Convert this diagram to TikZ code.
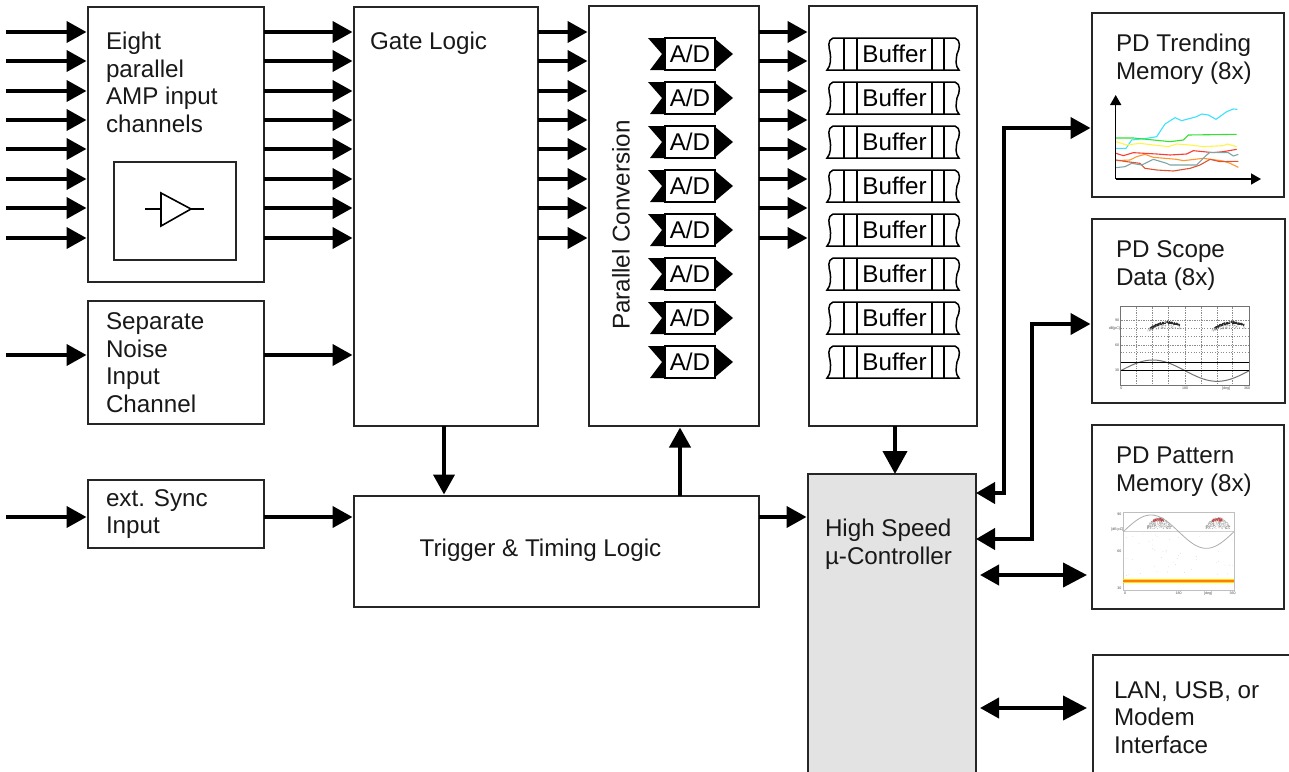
\documentclass[tikz,border=0pt]{standalone}
\usepackage{fontspec}
\setmainfont{Liberation Sans}
\usetikzlibrary{arrows.meta}
\definecolor{tcyan}{RGB}{60,225,255}
\definecolor{tgreen}{RGB}{50,225,50}
\definecolor{tyellow}{RGB}{255,245,70}
\definecolor{tred}{RGB}{250,60,50}
\definecolor{torange}{RGB}{255,150,50}
\definecolor{tdark}{RGB}{220,85,50}
\definecolor{tteal}{RGB}{125,165,165}
\tikzset{
  blk/.style={draw=black!85,line width=2pt,fill=white,inner sep=0pt,outer sep=0pt,anchor=north west},
  lbl/.style={inner sep=0pt,outer sep=0pt,anchor=west,align=left,text=black!90,font=\fontsize{24.2}{27.5}\selectfont},
  arr/.style={line width=4pt,black,shorten >=1.5pt,-{Triangle[length=20pt,width=21pt]}},
  bigarr/.style={line width=4pt,black,-{Triangle[length=23pt,width=24pt]}},
  dbl/.style={line width=4pt,black,{Triangle[length=19pt,width=20pt]}-{Triangle[length=24pt,width=24pt]}},
  link/.style={line width=4pt,black,line join=miter,shorten >=1.5pt,{Triangle[length=19pt,width=21pt]}-{Triangle[length=20pt,width=21pt]}},
  adbox/.style={draw=black,line width=1.6pt,fill=white,inner sep=0pt,outer sep=0pt,minimum width=50pt,minimum height=32pt,font=\fontsize{24.2}{27}\selectfont},
  buftxt/.style={inner sep=0pt,outer sep=0pt,font=\fontsize{24.2}{27}\selectfont},
  trend/.style={line width=1.1pt,line join=round},
  tiny/.style={inner sep=0pt,font=\fontsize{3.6}{4}\selectfont,text=black!70},
  buf/.pic={
    \draw[black,line width=1.5pt] (-61,-16) -- (61,-16)
       .. controls (67,-14) and (66,-6) .. (63,0)
       .. controls (62,6) and (61,12) .. (65,16) -- (-67,16)
       .. controls (-63,12) and (-63,4) .. (-64,-2)
       .. controls (-65,-6) and (-67,-14) .. (-61,-16);
    \draw[black,line width=1.5pt] (-50,-16) -- (-50,16) (-37,-16) -- (-37,16)
       (38,-16) -- (38,16) (50,-16) -- (50,16);
  }
}
\begin{document}
\begin{tikzpicture}[x=1pt,y=-1pt]
\useasboundingbox[fill=white] (0,0) rectangle (1289,771);
% blocks
\node[blk,minimum width=176pt,minimum height=275pt] (amp) at (88,7) {};
\node[blk,minimum width=122pt,minimum height=98pt] (ampin) at (114,162) {};
\node[blk,minimum width=176pt,minimum height=123pt] (noise) at (88,301) {};
\node[blk,minimum width=176pt,minimum height=68pt] (sync) at (88,480) {};
\node[blk,minimum width=184pt,minimum height=419pt] (gate) at (354,7) {};
\node[blk,minimum width=170pt,minimum height=420pt] (conv) at (589,6) {};
\node[blk,minimum width=168pt,minimum height=420pt] (bufs) at (809,6) {};
\node[blk,minimum width=405pt,minimum height=111pt] (trig) at (354,496) {};
\node[blk,fill=black!11,minimum width=168pt,minimum height=300pt] (hs) at (808,474) {};
\node[blk,minimum width=192pt,minimum height=184pt] (trendm) at (1092,13) {};
\node[blk,minimum width=193pt,minimum height=184pt] (scope) at (1092,219) {};
\node[blk,minimum width=192pt,minimum height=184pt] (pattern) at (1092,425) {};
\node[blk,minimum width=200pt,minimum height=120pt] (lan) at (1093,655) {};
% labels
\node[lbl] (t1) at (106,82.5) {Eight\\parallel\\AMP input\\channels};
\node[lbl] (t2) at (106,362.5) {Separate\\Noise\\Input\\Channel};
\node[lbl] (t3) at (106,514) {ext. Sync\\Input};
\node[lbl] (t4) at (370,43) {Gate Logic};
\node[lbl,anchor=center] (t5) at (540.5,550) {Trigger \& Timing Logic};
\node[lbl] (t6) at (825,544) {High Speed\\µ-Controller};
\node[lbl,anchor=center,rotate=90] (t7) at (621,225) {Parallel Conversion};
\node[lbl] (t8) at (1116,59) {PD Trending\\Memory (8x)};
\node[lbl] (t9) at (1116,265.5) {PD Scope\\Data (8x)};
\node[lbl] (t10) at (1116,471.5) {PD Pattern\\Memory (8x)};
\node[lbl] (t11) at (1114,717.5) {LAN, USB, or\\Modem\\Interface};
% amplifier symbol
\draw[black,line width=1.6pt,line join=miter] (161,193) -- (191,209) -- (161,226) -- cycle;
\draw[black,line width=1.6pt] (145,209) -- (161,209) (191,209) -- (204,209);
% A/D and buffers
\foreach \i/\y in {1/54,2/98,3/142,4/186,5/230,6/274,7/318,8/362}{
  \fill[black] (666,\y-16) -- (648,\y-16) -- (662,\y) -- (650,\y+16) -- (666,\y+16) -- cycle;
  \fill[black] (714,\y-16) -- (733,\y) -- (714,\y+16) -- cycle;
  \node[adbox] (ad\i) at (690,\y) {A/D};
  \pic at (894,\y) {buf};
  \node[buftxt] (bf\i) at (894.5,\y) {Buffer};
}
% channel arrows
\foreach \y [count=\i] in {32,61,91,120,149,179,208,238}{
  \coordinate (in\i) at (6,\y);
  \draw[arr] (in\i) -- (in\i -| amp.west);
  \draw[arr] (amp.east |- in\i) -- (gate.west |- in\i);
  \draw[arr] (gate.east |- in\i) -- (conv.west |- in\i);
  \draw[arr] (conv.east |- in\i) -- (bufs.west |- in\i);
}
\coordinate (nin) at (6,355);
\draw[arr] (nin) -- (nin -| noise.west);
\draw[arr] (noise.east |- nin) -- (gate.west |- nin);
\coordinate (sin) at (6,517);
\draw[arr] (sin) -- (sin -| sync.west);
\draw[arr] (sync.east |- sin) -- (trig.west |- sin);
\draw[arr] (trig.east |- sin) -- (hs.west |- sin);
\coordinate (gx) at (444,460);
\draw[arr] (gate.south -| gx) -- (trig.north -| gx);
\coordinate (cx) at (680,460);
\draw[arr] (trig.north -| cx) -- (conv.south -| cx);
\coordinate (bx) at (895,450);
\draw[bigarr] (bufs.south -| bx) -- (hs.north -| bx);
% controller links
\coordinate (h1) at (1004,493);
\coordinate (m1) at (1004,128);
\draw[link] (hs.east |- h1) -- (h1) -- (m1) -- (trendm.west |- m1);
\coordinate (h2) at (1032,539);
\coordinate (m2) at (1032,324);
\draw[link] (hs.east |- h2) -- (h2) -- (m2) -- (scope.west |- m2);
\coordinate (h3) at (980,575);
\coordinate (m3) at (1087,575);
\draw[dbl] (h3) -- (m3);
\coordinate (h4) at (980,708);
\coordinate (m4) at (1087,708);
\draw[dbl] (h4) -- (m4);
% trend chart
\begin{scope}[shift={(1090,0)},x=0.33333pt,y=-0.33333pt]
\draw[trend,tcyan] (78,445)--(108,445)--(125,420)--(170,415)--(200,410)--(225,372)--(255,353)--(275,362)--(320,350)--(335,342)--(355,345)--(378,358)--(410,335)--(430,327)--(442,328);
\draw[trend,tgreen] (78,414)--(130,414)--(240,425)--(280,420)--(295,405)--(440,403);
\draw[trend,tyellow] (78,425)--(110,435)--(150,430)--(190,435)--(235,440)--(260,432)--(300,435)--(340,440)--(400,437)--(412,432)--(440,440);
\draw[trend,tred] (78,460)--(100,467)--(130,458)--(200,462)--(240,465)--(290,462)--(310,452)--(370,458)--(400,455)--(440,448);
\draw[trend,torange] (78,482)--(120,480)--(140,470)--(165,463)--(190,472)--(260,478)--(280,482)--(340,475)--(400,483)--(420,490)--(445,502);
\draw[trend,tdark] (78,480)--(110,485)--(150,490)--(165,505)--(200,510)--(250,513)--(300,505)--(330,495)--(360,478)--(390,485)--(445,484);
\draw[trend,tteal] (78,503)--(105,500)--(125,490)--(155,495)--(190,478)--(230,490)--(240,495)--(320,495)--(350,465)--(360,457)--(415,458)--(430,468)--(445,463);
\coordinate (ao) at (77,537);
\coordinate (ay) at (77,285);
\coordinate (ax) at (513,537);
\draw[line width=1.6pt,black,-{Triangle[length=10pt,width=11pt]}] (ao) -- (ay);
\draw[line width=1.6pt,black,-{Triangle[length=10pt,width=11pt]}] (ao) -- (ax);
\end{scope}
% scope chart
\begin{scope}[shift={(1090,215)},x=0.33333pt,y=-0.33333pt]
\pgfmathsetseed{7}
\foreach \x in {140,188,236,285,333,381,428}
  \draw[black!45,line width=0.7pt,densely dotted] (\x,275) -- (\x,510);
\foreach \y in {315,390}
  \draw[black!45,line width=0.7pt,densely dotted] (92,\y) -- (478,\y);
\foreach \y in {340,365,412}
  \draw[black!45,line width=0.7pt,dotted] (92,\y) -- (478,\y);
\draw[black!55,line width=1pt] (92,275) rectangle (478,510);
\foreach \i in {1,...,150}{
  \pgfmathsetmacro{\xa}{180+90*rnd}
  \pgfmathsetmacro{\ya}{323+pow((\xa-235)/45,2)*12+3*rand}
  \pgfmathsetmacro{\xb}{\xa+193}
  \fill[black!85] (\xa,\ya) circle[radius=0.6pt];
  \fill[black!85] (\xb,\ya) circle[radius=0.6pt];
}
\foreach \i in {1,...,60}{
  \pgfmathsetmacro{\xa}{168+110*rnd}
  \pgfmathsetmacro{\ya}{330+pow((\xa-235)/60,2)*10+10*rnd}
  \pgfmathsetmacro{\xb}{\xa+193}
  \fill[black!40] (\xa,\ya) circle[radius=0.45pt];
  \fill[black!40] (\xb,\ya) circle[radius=0.45pt];
}
\draw[black!55,line width=1pt,domain=0:360,samples=60] plot ({92+\x/360*386},{467-32*sin(\x)});
\draw[black,line width=0.9pt] (92,443) -- (478,443) (92,465) -- (478,465);
\node[tiny] (s1) at (94,521) {0};
\node[tiny] (s2) at (285,521) {180};
\node[tiny] (s3) at (408,521) {[deg]};
\node[tiny] (s4) at (471,521) {360};
\node[tiny] (s5) at (81,315) {90};
\node[tiny] (s6) at (73,340) {dB[pC]};
\node[tiny] (s7) at (81,390) {60};
\node[tiny] (s8) at (81,465) {30};
\end{scope}
% pattern chart
\begin{scope}[shift={(1090,420)},x=0.33333pt,y=-0.33333pt]
\pgfmathsetseed{11}
\draw[black!25,line width=1pt] (100,277) rectangle (432,510);
\draw[black!18,line width=1.4pt] (100,335) -- (432,335);
\foreach \i in {1,...,260}{
  \pgfmathsetmacro{\xa}{172+72*rnd}
  \pgfmathsetmacro{\ta}{292+pow((\xa-208)/38,2)*30}
  \pgfmathsetmacro{\ya}{\ta+(326-\ta)*rnd}
  \pgfmathsetmacro{\xb}{\xa+176}
  \fill[black!35] (\xa,\ya) circle[radius=0.4pt];
  \fill[black!35] (\xb,\ya) circle[radius=0.4pt];
}
\foreach \i in {1,...,70}{
  \pgfmathsetmacro{\xa}{190+32*rnd}
  \pgfmathsetmacro{\ya}{294+pow((\xa-206)/16,2)*4+9*rnd}
  \pgfmathsetmacro{\xb}{\xa+176}
  \fill[red!50!gray] (\xa,\ya) circle[radius=0.45pt];
  \fill[red!50!gray] (\xb,\ya) circle[radius=0.45pt];
}
\foreach \i in {1,...,45}{
  \pgfmathsetmacro{\xa}{105+325*rnd}
  \pgfmathsetmacro{\ya}{340+130*rnd}
  \fill[black!22] (\xa,\ya) circle[radius=0.35pt];
}
\draw[black!32,line width=0.8pt,domain=0:360,samples=60] plot ({100+\x/360*332},{335-50*sin(\x)});
\fill[yellow!85!orange] (100,477) rectangle (432,489);
\fill[orange] (100,480) rectangle (432,485);
\node[tiny] (p1) at (105,521) {0};
\node[tiny] (p2) at (266,521) {180};
\node[tiny] (p3) at (354,521) {[deg]};
\node[tiny] (p4) at (428,521) {360};
\node[tiny] (p5) at (88,283) {90};
\node[tiny] (p6) at (82,328) {[dB pC]};
\node[tiny] (p7) at (88,394) {60};
\node[tiny] (p8) at (88,506) {30};
\end{scope}
\end{tikzpicture}
\end{document}
